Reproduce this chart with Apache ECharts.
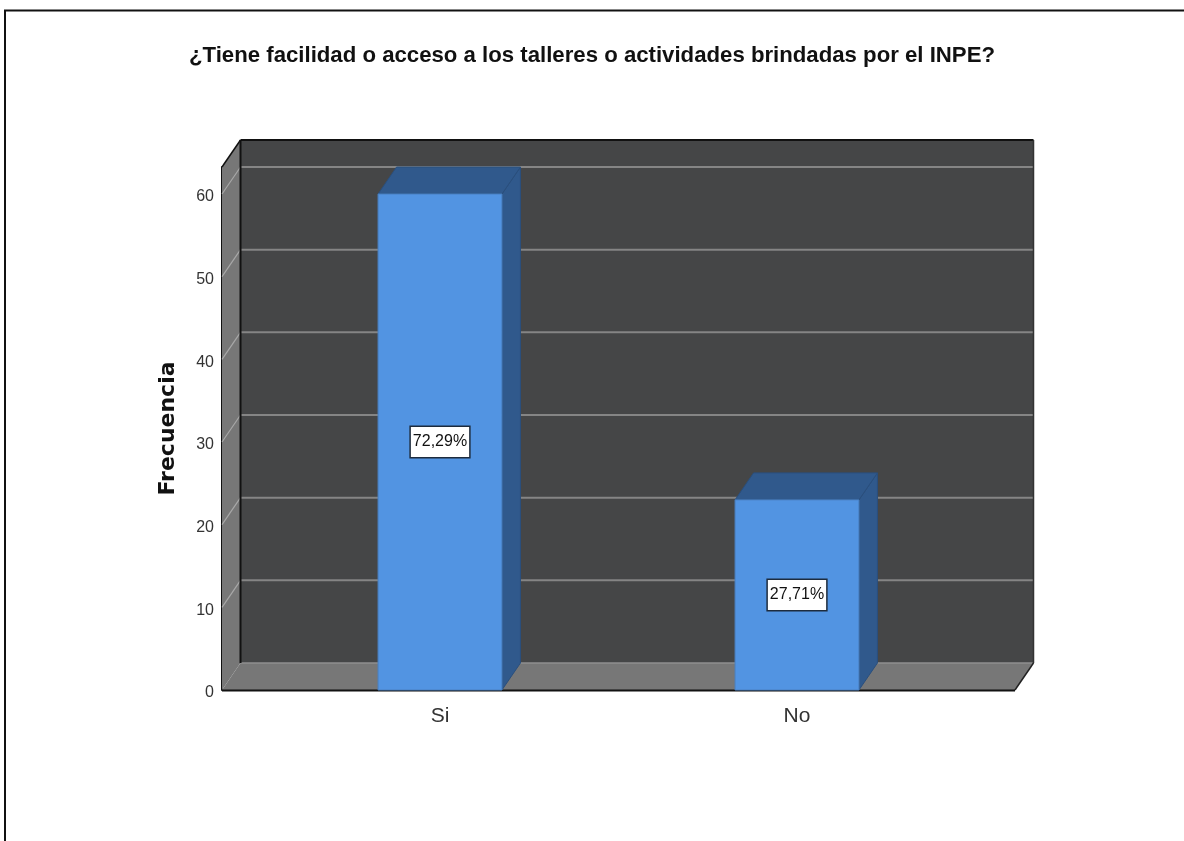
<!DOCTYPE html>
<html>
<head>
<meta charset="utf-8">
<style>html,body{margin:0;padding:0;background:#fff}#c{width:1184px;height:841px}</style>
<script src="https://cdn.jsdelivr.net/npm/echarts@6/dist/echarts.min.js"></script>
</head>
<body>
<div id="c"></div>
<script>
var titleText = '¿Tiene facilidad o acceso a los talleres o actividades brindadas por el INPE?';
var yAxisName = 'Frecuencia';
var categories = ['Si', 'No'];
var counts = [60, 23];
var percentLabels = ['72,29%', '27,71%'];
var labelAnchors = [30, 11.5];
var gridValues = [0, 10, 20, 30, 40, 50, 60];
var axisMax = 63.27;

var DX = 18.5, DY = -27, SANS = '"Liberation Sans",Arial,sans-serif';

function renderFrame(params, api) {
  var y0 = api.coord([0, 0])[1], yTop = api.coord([0, axisMax])[1];
  var gl = params.coordSys.x, gw = params.coordSys.width;
  var L = gl - 39.5, R = gl + gw + 39.5;
  var children = [];
  function poly(pts, fill, stroke, lw) {
    children.push({type: 'polygon', shape: {points: pts}, style: {fill: fill, stroke: stroke || null, lineWidth: lw || 0}});
  }
  function line(x1, y1, x2, y2, color, lw) {
    children.push({type: 'line', shape: {x1: x1, y1: y1, x2: x2, y2: y2}, style: {stroke: color, lineWidth: lw}});
  }
  poly([[L + DX, yTop + DY], [R + DX, yTop + DY], [R + DX, y0 + DY], [L + DX, y0 + DY]], '#454647');
  poly([[L, yTop], [L + DX, yTop + DY], [L + DX, y0 + DY], [L, y0]], '#777777');
  poly([[L, y0], [L + DX, y0 + DY], [R + DX, y0 + DY], [R, y0]], '#777777');
  gridValues.forEach(function (v) {
    var y = api.coord([0, v])[1];
    if (v > 0) {
      line(L, y, L + DX, y + DY, '#a8a8a8', 1.2);
      line(L + DX, y + DY, R + DX, y + DY, '#858585', 2);
    } else {
      line(L + DX, y + DY, R + DX, y + DY, '#8f8f8f', 1.5);
    }
  });
  line(L + DX, yTop + DY, R + DX, yTop + DY, '#111', 2);
  line(L + DX, yTop + DY, L + DX, y0 + DY, '#111', 2);
  line(R + DX, yTop + DY, R + DX, y0 + DY, '#333', 1.5);
  line(L, yTop, L + DX, yTop + DY, '#111', 1.5);
  line(R, y0, R + DX, y0 + DY, '#222', 1.5);
  line(L, y0 + 0.5, R, y0 + 0.5, '#111', 2);
  return {type: 'group', children: children};
}

function renderBar(params, api) {
  var i = api.value(0), val = api.value(1);
  var c = api.coord([i, val]), b = api.coord([i, 0]);
  var w = api.size([1, 0])[0] * 0.347;
  var x0 = c[0] - w / 2, x1 = c[0] + w / 2, yt = c[1], yb = b[1];
  var lab = api.coord([i, labelAnchors[i]]);
  return {type: 'group', children: [
    {type: 'polygon', shape: {points: [[x1, yt], [x1 + DX, yt + DY], [x1 + DX, yb + DY], [x1, yb]]},
      style: {fill: '#30598c', stroke: '#2a4f7d', lineWidth: 1}},
    {type: 'polygon', shape: {points: [[x0, yt], [x0 + DX, yt + DY], [x1 + DX, yt + DY], [x1, yt]]},
      style: {fill: '#30598c', stroke: '#2a4f7d', lineWidth: 1}},
    {type: 'rect', shape: {x: x0, y: yt, width: w, height: yb - yt},
      style: {fill: '#5294e2', stroke: '#4a80c2', lineWidth: 1}},
    {type: 'text', x: lab[0], y: lab[1], style: {
      text: percentLabels[i], fill: '#111', font: '16px ' + SANS, align: 'center', verticalAlign: 'middle',
      backgroundColor: '#fff', borderColor: '#1d2b3d', borderWidth: 1.5, padding: [7, 2, 7, 2]
    }}
  ]};
}

var chart = echarts.init(document.getElementById('c'), null, {renderer: 'canvas'});
chart.setOption({
  animation: false,
  backgroundColor: '#fff',
  title: {
    text: titleText, left: 587, top: 40, textAlign: 'center',
    textStyle: {fontFamily: 'Liberation Sans', fontWeight: 'bold', fontSize: 22.2, color: '#111'}
  },
  grid: {left: 261.5, width: 714, top: 167, height: 523},
  xAxis: {
    type: 'category', data: categories,
    axisLine: {show: false}, axisTick: {show: false}, splitLine: {show: false},
    axisLabel: {fontFamily: 'Liberation Sans', fontSize: 21, color: '#333', margin: 16}
  },
  yAxis: {
    type: 'value', min: 0, max: axisMax, interval: 10, offset: 39.5,
    name: yAxisName, nameLocation: 'middle', nameGap: 43,
    nameTextStyle: {fontFamily: 'DejaVu Sans', fontWeight: 'bold', fontSize: 22, color: '#111'},
    axisLine: {show: true, lineStyle: {color: '#111', width: 2}},
    axisTick: {show: false}, splitLine: {show: false},
    axisLabel: {fontFamily: 'Liberation Sans', fontSize: 16, color: '#333', margin: 8, showMaxLabel: false, verticalAlign: 'top', lineHeight: 6}
  },
  graphic: [
    {type: 'line', shape: {x1: 5, y1: 10, x2: 5, y2: 841}, style: {stroke: '#111', lineWidth: 2}, silent: true},
    {type: 'line', shape: {x1: 4, y1: 10.5, x2: 1184, y2: 10.5}, style: {stroke: '#111', lineWidth: 2}, silent: true}
  ],
  series: [
    {type: 'custom', z: 1, coordinateSystem: 'cartesian2d', renderItem: renderFrame, data: [[0, 0]], silent: true},
    {type: 'custom', z: 2, coordinateSystem: 'cartesian2d', renderItem: renderBar,
      encode: {x: 0, y: 1},
      data: counts.map(function (v, i) { return [i, v]; }), silent: true}
  ]
});
</script>
</body>
</html>
